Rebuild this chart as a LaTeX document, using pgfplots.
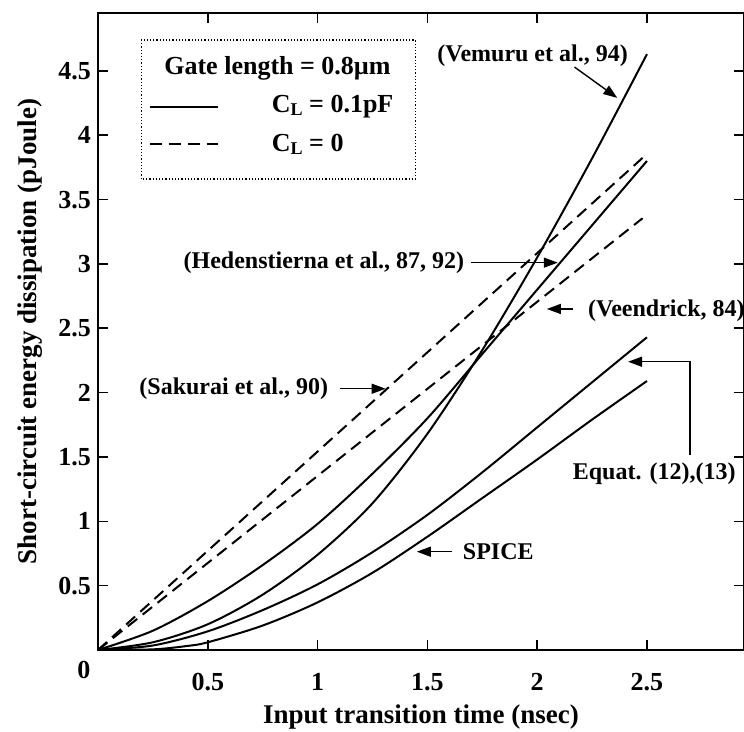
\documentclass[border=0pt]{standalone}
\usepackage{fontspec}
\setmainfont{Liberation Serif}
\usepackage{pgfplots}
\pgfplotsset{compat=1.18}
\usetikzlibrary{arrows.meta}

\begin{document}
\begin{tikzpicture}[font=\bfseries\fontsize{12}{14}\selectfont,
  ann/.style={-{Triangle[length=7pt,width=5pt]}, line width=0.7pt}]
\begin{axis}[
    scale only axis,
    width=323pt,
    height=318.5pt,
    xmin=0, xmax=2.942,
    ymin=0, ymax=4.95,
    clip=false,
    xtick={0.5,1,1.5,2,2.5},
    xticklabels={0.5,1,1.5,2,2.5},
    ytick={0.5,1,1.5,2,2.5,3,3.5,4,4.5},
    yticklabels={0.5,1,1.5,2,2.5,3,3.5,4,4.5},
    tick align=inside,
    major tick length=5pt,
    tick style={black, line width=0.8pt},
    axis line style={line width=1.4pt},
    ticklabel style={font=\bfseries\fontsize{13}{15}\selectfont},
    xticklabel style={yshift=-8pt},
    xlabel={Input transition time (nsec)},
    ylabel={Short-circuit energy dissipation (pJoule)},
    label style={font=\bfseries\fontsize{13.5}{16}\selectfont},
    xlabel style={at={(axis description cs:0.5,-0.105)}, anchor=center},
    ylabel style={at={(axis description cs:-0.105,0.5)}, anchor=center},
]
% dashed: Sakurai et al. (upper), Veendrick (lower)
\addplot[black, line width=1pt, dash pattern=on 6pt off 3.5pt] coordinates {(0,0) (2.5,3.855)};
\addplot[black, line width=1pt, dash pattern=on 6pt off 3.5pt] coordinates {(0,0) (2.48,3.355)};
% Hedenstierna et al.
\addplot[black, line width=1pt, smooth] coordinates {
  (0,0) (0.25,0.15) (0.5,0.38) (0.75,0.66) (1.0,0.98) (1.25,1.37)
  (1.5,1.80) (1.75,2.30) (2.0,2.80) (2.25,3.30) (2.5,3.80)};
% Vemuru et al.
\addplot[black, line width=1pt, smooth] coordinates {
  (0,0) (0.25,0.06) (0.5,0.20) (0.75,0.43) (1.0,0.74) (1.25,1.14)
  (1.5,1.68) (1.75,2.33) (2.0,3.05) (2.25,3.82) (2.5,4.63)};
% Equat. (12),(13)
\addplot[black, line width=1pt, smooth] coordinates {
  (0,0) (0.25,0.035) (0.5,0.145) (0.75,0.31) (1.0,0.51) (1.25,0.76)
  (1.5,1.05) (1.75,1.38) (2.0,1.73) (2.25,2.08) (2.5,2.43)};
% SPICE
\addplot[black, line width=1pt, smooth] coordinates {
  (0,0) (0.25,0.005) (0.4,0.03) (0.5,0.06) (0.75,0.19) (1.0,0.37)
  (1.25,0.6) (1.5,0.88) (1.75,1.18) (2.0,1.48) (2.25,1.79) (2.5,2.09)};

% corner zero
\node[font=\bfseries\fontsize{13}{15}\selectfont] at (axis cs:0,0) [xshift=-7pt, yshift=-10pt] {0};

% legend box
\draw[densely dotted, line width=0.6pt] (axis cs:0.197,4.74) rectangle (axis cs:1.445,3.66);
\node[anchor=west, font=\bfseries\fontsize{13}{15}\selectfont] at (axis cs:0.27,4.52) {Gate length = 0.8µm};
\draw[line width=1pt] (axis cs:0.236,4.22) -- (axis cs:0.546,4.22);
\node[anchor=west, font=\bfseries\fontsize{13}{15}\selectfont] at (axis cs:0.76,4.22) {C\raisebox{-0.25ex}{\fontsize{9}{10}\selectfont L} = 0.1pF};
\draw[line width=1pt, dash pattern=on 6pt off 3.5pt] (axis cs:0.236,3.93) -- (axis cs:0.546,3.93);
\node[anchor=west, font=\bfseries\fontsize{13}{15}\selectfont] at (axis cs:0.76,3.93) {C\raisebox{-0.25ex}{\fontsize{9}{10}\selectfont L} = 0};

% annotations
\node[anchor=east] at (axis cs:2.445,4.62) {(Vemuru et al., 94)};
\draw[ann] (axis cs:2.17,4.53) -- (axis cs:2.365,4.29);
\node[anchor=east] at (axis cs:1.70,3.01) {(Hedenstierna et al., 87, 92)};
\draw[ann] (axis cs:1.70,3.01) -- (axis cs:2.094,3.01);
\node[anchor=west] at (axis cs:2.20,2.64) {(Veendrick, 84)};
\draw[ann] (axis cs:2.164,2.65) -- (axis cs:2.044,2.65);
\node[anchor=east] at (axis cs:1.08,2.03) {(Sakurai et al., 90)};
\draw[ann] (axis cs:1.10,2.03) -- (axis cs:1.31,2.03);
\node[anchor=west] at (axis cs:1.63,0.764) {SPICE};
\draw[ann] (axis cs:1.611,0.764) -- (axis cs:1.452,0.764);
\node at (axis cs:2.533,1.37) {Equat. (12),(13)};
\draw[ann] (axis cs:2.696,1.515) |- (axis cs:2.414,2.24);
\end{axis}
\pgfresetboundingbox
\useasboundingbox (-49pt,-41pt) rectangle (323pt,325pt);
\end{tikzpicture}
\end{document}
